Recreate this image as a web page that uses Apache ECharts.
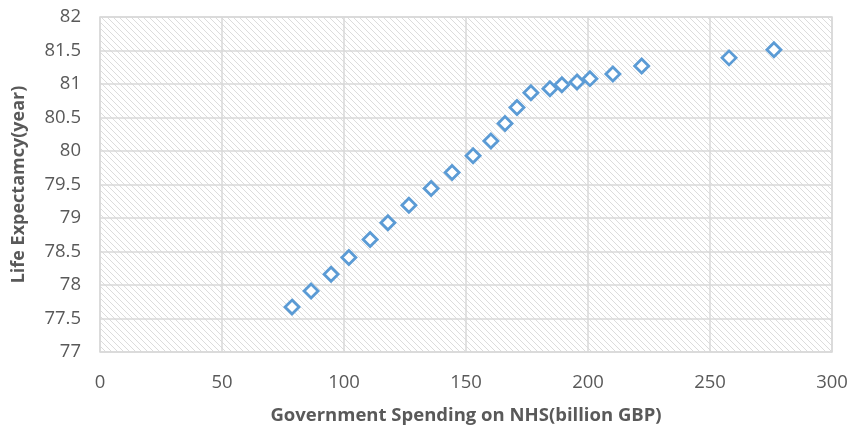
<!DOCTYPE html>
<html>
<head>
<meta charset="utf-8">
<script src="https://cdn.jsdelivr.net/npm/echarts@6/dist/echarts.min.js"></script>
<style>
  html, body { margin: 0; padding: 0; background: #fff; }
  #chart { width: 851px; height: 431px; }
</style>
</head>
<body>
<div id="chart"></div>
<script>
const spending = [78.7, 86.5, 94.7, 102, 110.7, 118, 126.6, 135.7, 144.3, 152.9, 160.2, 166, 170.9, 176.6, 184.4, 189.3, 195.5, 200.8, 210.2, 222, 257.8, 276.2];
const lifeExp = [77.67, 77.91, 78.16, 78.41, 78.68, 78.93, 79.19, 79.44, 79.68, 79.93, 80.15, 80.41, 80.65, 80.87, 80.93, 80.99, 81.03, 81.08, 81.15, 81.27, 81.39, 81.51];

// diagonal hatch for the plot background
const makeHatch = () => {
  const c = document.createElement('canvas');
  c.width = 6;
  c.height = 6;
  const ctx = c.getContext('2d');
  ctx.fillStyle = '#fff';
  ctx.fillRect(0, 0, 6, 6);
  ctx.strokeStyle = '#dcdcdc';
  ctx.lineWidth = 1;
  ctx.beginPath();
  ctx.moveTo(-1, -1); ctx.lineTo(7, 7);
  ctx.moveTo(-1, 5); ctx.lineTo(1, 7);
  ctx.moveTo(5, -1); ctx.lineTo(7, 1);
  ctx.stroke();
  return c;
};

const chart = echarts.init(document.getElementById('chart'));
const font = "'Open Sans', sans-serif";

chart.setOption({
  animation: false,
  grid: {
    left: 100, right: 19, top: 17, bottom: 79,
    outerBoundsMode: 'none',
    containLabel: false,
    show: true,
    backgroundColor: { image: makeHatch(), repeat: 'repeat' },
    borderColor: '#d9d9d9',
    borderWidth: 1.5
  },
  xAxis: {
    type: 'value',
    min: 0, max: 300, interval: 50,
    name: 'Government Spending on NHS(billion GBP)',
    nameLocation: 'middle',
    nameGap: 54,
    nameTextStyle: { color: '#595959', fontSize: 18.5, fontWeight: 'bold', fontFamily: font },
    axisLine: { show: false },
    axisTick: { show: false },
    axisLabel: { color: '#595959', fontSize: 18.5, fontFamily: font, margin: 21 },
    splitLine: { lineStyle: { color: '#d9d9d9', width: 1.5 } }
  },
  yAxis: {
    type: 'value',
    min: 77, max: 82, interval: 0.5,
    name: 'Life Expectamcy(year)',
    nameLocation: 'middle',
    nameGap: 72,
    nameTextStyle: { color: '#595959', fontSize: 18, fontWeight: 'bold', fontFamily: font },
    axisLine: { show: false },
    axisTick: { show: false },
    axisLabel: { color: '#595959', fontSize: 18.5, fontFamily: font, margin: 19 },
    splitLine: { lineStyle: { color: '#d9d9d9', width: 1.5 } }
  },
  series: [{
    type: 'scatter',
    symbol: 'diamond',
    symbolSize: 14,
    data: spending.map((v, i) => [v, lifeExp[i]]),
    itemStyle: { color: '#fff', borderColor: '#5b9bd5', borderWidth: 2.8, opacity: 1 }
  }]
});
</script>
</body>
</html>
